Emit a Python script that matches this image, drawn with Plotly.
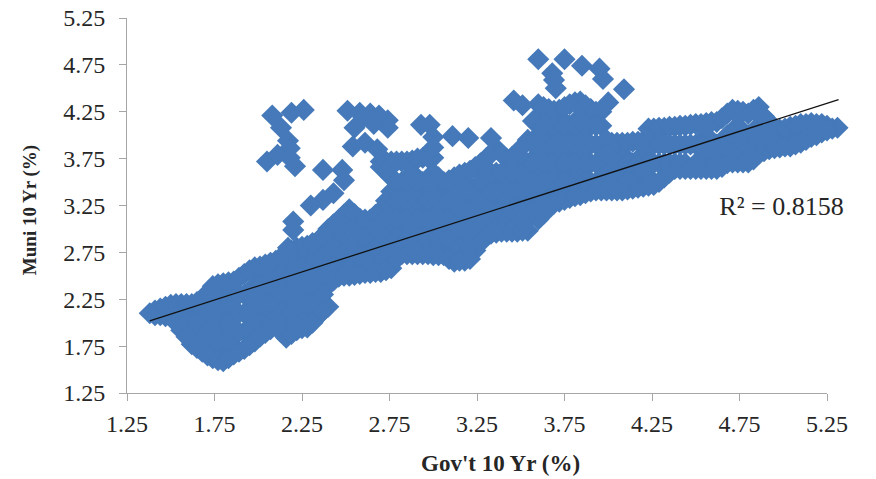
import plotly.graph_objects as go

# Body of the scatter: gov't yield -> muni yields
gov_columns = [1.38,1.44,1.50,1.56,1.62,1.68,1.74,1.80,1.86,1.92,1.98,2.04,2.10,2.16,2.22,2.28,2.34,2.40,2.46,2.52,2.58,
               2.64,2.70,2.76,2.82,2.88,2.94,3.00,3.06,3.12,3.18,3.24,3.30,3.36,3.42,3.48,3.54,3.60,3.66,3.72,3.78,3.84,
               3.90,3.96,4.02,4.08,4.14,4.20,4.26,4.32,4.38,4.44,4.50,4.56,4.62,4.68,4.74,4.80,4.86,4.92,4.98,5.04,5.10,
               5.16,5.22,5.28,5.31]
muni_columns = [
 [2.10],
 [2.15,2.08],
 [2.19,2.07],
 [2.20,2.10,1.92],
 [2.20,2.00,1.80,1.77],
 [2.25,2.10,1.90,1.69],
 [2.39,2.20,2.00,1.80,1.62],
 [2.42,2.30,2.10,1.90,1.70,1.59],
 [2.44,2.30,2.10,1.90,1.70,1.66],
 [2.52,2.30,2.10,1.90,1.72],
 [2.59,2.40,2.20,2.00,1.80],
 [2.62,2.50,2.30,2.10,1.89],
 [2.66,2.50,2.30,2.10,1.96],
 [2.74,2.60,2.40,2.20,2.00,1.84],
 [2.80,2.60,2.40,2.20,2.00,1.92],
 [2.82,2.70,2.50,2.30,2.10,1.95],
 [2.87,2.70,2.50,2.30,2.10,2.07],
 [3.00,2.80,2.60,2.40,2.17],
 [3.10,2.90,2.70,2.49],
 [3.21,3.00,2.80,2.60,2.50],
 [3.11,2.90,2.70,2.52],
 [3.10,3.00,2.80,2.60,2.53],
 [3.72,3.66,3.20,3.10,2.90,2.70,2.54],
 [3.72,3.55,3.40,3.20,3.00,2.80,2.58],
 [3.72,3.50,3.30,3.10,2.90,2.73],
 [3.73,3.60,3.40,3.20,3.00,2.80,2.73],
 [3.76,3.50,3.30,3.10,2.90,2.73],
 [3.76,3.60,3.40,3.20,3.00,2.80,2.72],
 [3.50,3.30,3.10,2.90,2.72],
 [3.55,3.40,3.20,3.00,2.80,2.65],
 [3.60,3.50,3.30,3.10,2.90,2.70,2.66],
 [3.66,3.40,3.20,3.00,2.77],
 [3.75,3.50,3.30,3.10,2.93],
 [3.86,3.60,3.40,3.20,3.00,2.96],
 [3.75,3.50,3.30,3.10,2.97],
 [3.80,3.60,3.40,3.20,3.00,2.97],
 [3.95,3.70,3.50,3.30,3.10,2.98],
 [4.33,4.20,4.00,3.80,3.60,3.40,3.20,3.10],
 [4.28,4.10,3.90,3.70,3.50,3.30,3.25],
 [4.27,4.20,4.00,3.80,3.60,3.40,3.29],
 [4.33,4.10,3.90,3.70,3.50,3.33],
 [4.36,4.20,4.00,3.80,3.60,3.40,3.36],
 [4.28,4.10,3.90,3.70,3.50,3.40],
 [4.25,4.10,3.90,3.70,3.50,3.41],
 [3.92,3.70,3.50,3.41],
 [3.92,3.80,3.60,3.41],
 [3.93,3.70,3.50,3.43],
 [3.94,3.80,3.60,3.45],
 [4.07,3.90,3.70,3.50,3.47],
 [4.08,3.90,3.70,3.55],
 [4.09,3.90,3.70,3.64],
 [4.10,3.90,3.70,3.64],
 [4.12,3.90,3.70,3.64],
 [4.13,4.00,3.80,3.64],
 [4.14,3.90,3.70,3.64],
 [4.23,4.00,3.80,3.70],
 [4.26,4.10,3.90,3.71],
 [4.23,4.00,3.80,3.71],
 [4.30,4.10,3.90,3.80],
 [4.14,4.00,3.85],
 [4.06,3.90,3.87],
 [4.09,4.00,3.88],
 [4.12,4.00,3.92],
 [4.13,4.00,3.98],
 [4.12,4.03],
 [4.07],
 [4.08],
]

# Columns between those above, which close the gaps and even the edges
gov_between = [1.41,1.47,1.53,1.59,1.65,1.71,1.77,1.83,1.89,1.95,2.01,2.07,2.13,2.19,2.25,2.31,2.37,2.43,2.49,2.55,2.61,
               2.67,2.73,2.79,2.85,2.91,2.97,3.03,3.09,3.15,3.21,3.27,3.33,3.39,3.45,3.51,3.57,3.63,3.69,3.75,3.81,3.87,
               3.93,3.99,4.05,4.11,4.17,4.23,4.29,4.35,4.41,4.47,4.53,4.59,4.65,4.71,4.77,4.83,4.89,4.95,5.01,5.07,5.13,
               5.19,5.25]
muni_between = [
 [2.13,2.08],[2.17,2.07],[2.20,2.00],[2.20,2.00,1.85],[2.22,2.00,1.73],[2.32,2.10,1.90,1.65],
 [2.41,2.20,2.00,1.80,1.60],[2.43,2.20,2.00,1.80,1.62],[2.48,2.30,2.10,1.90,1.69],[2.56,2.30,2.10,1.90,1.76],
 [2.60,2.40,2.20,2.00,1.85],[2.64,2.40,2.20,2.00,1.93],[2.70,2.50,2.30,2.10,1.90],[2.77,2.50,2.30,2.10,1.88],
 [2.81,2.60,2.40,2.20,2.00,1.94],[2.85,2.60,2.40,2.20,2.00],[2.93,2.70,2.50,2.30,2.12],[3.05,2.80,2.60,2.45],
 [3.15,2.95,2.75,2.50],[3.16,2.95,2.75,2.51],[3.10,2.90,2.70,2.53],[3.15,3.00,2.80,2.60,2.54],
 [3.72,3.62,3.30,3.10,2.90,2.70,2.56],[3.72,3.50,3.30,3.10,2.90,2.68],[3.72,3.50,3.30,3.10,2.90,2.73],
 [3.75,3.50,3.30,3.10,2.90,2.73],[3.76,3.50,3.30,3.10,2.90,2.73],[3.55,3.30,3.10,2.90,2.72],[3.52,3.30,3.10,2.90,2.68],
 [3.58,3.40,3.20,3.00,2.80,2.66],[3.62,3.40,3.20,3.00,2.80,2.68],[3.70,3.50,3.30,3.10,2.85],[3.80,3.60,3.40,3.20,2.95],
 [3.80,3.60,3.40,3.20,2.97],[3.77,3.60,3.40,3.20,2.97],[3.88,3.60,3.40,3.20,2.98],[4.15,3.90,3.70,3.50,3.30,3.20],
 [4.30,4.10,3.90,3.70,3.50,3.30,3.16],[4.26,4.10,3.90,3.70,3.50,3.27],[4.30,4.10,3.90,3.70,3.50,3.31],
 [4.35,4.10,3.90,3.70,3.50,3.35],[4.32,4.10,3.90,3.70,3.50,3.38],[4.25,4.10,3.90,3.70,3.50,3.41],[3.95,3.80,3.60,3.41],
 [3.92,3.70,3.50,3.41],[3.92,3.70,3.50,3.42],[3.93,3.70,3.50,3.44],[4.07,3.90,3.70,3.50,3.46],[4.08,3.90,3.70,3.50],
 [4.09,3.90,3.70,3.60],[4.10,3.90,3.70,3.64],[4.11,3.90,3.64],[4.12,3.90,3.64],[4.14,3.90,3.64],[4.18,3.90,3.66],
 [4.27,4.00,3.80,3.71],[4.25,4.00,3.80,3.71],[4.27,4.00,3.80,3.74],[4.20,4.00,3.83],[4.08,3.90,3.86],[4.07,3.88],
 [4.10,3.90],[4.12,3.95],[4.12,4.00],[4.10,4.05],
]

# Diamonds that stand apart from the body
outlier_gov = [2.08,2.19,2.26,2.13,2.17,2.18,2.05,2.11,2.18,2.21,
               2.37,2.48,2.49,2.43,2.37,2.30,2.20,2.20,2.17,
               2.51,2.58,2.64,2.69,2.74,2.74,2.55,2.60,2.66,2.54,2.61,2.68,
               2.93,2.98,3.11,3.20,3.33,3.00,3.00,
               3.46,3.51,3.60,3.75,3.85,3.95,3.97,3.68,3.69,3.70,4.09,4.00]
outlier_muni = [4.21,4.24,4.27,4.08,3.94,3.86,3.72,3.79,3.76,3.67,
                3.63,3.63,3.52,3.38,3.31,3.25,3.08,2.99,2.80,
                4.26,4.24,4.23,4.21,4.16,4.08,4.08,4.19,4.12,3.88,3.92,3.85,
                4.11,4.11,3.99,3.97,3.97,3.98,3.87,
                4.37,4.32,4.81,4.81,4.74,4.71,4.60,4.66,4.59,4.50,4.49,4.35]

trend_gov = [1.38, 5.316]
trend_muni = [2.02, 4.38]
r2_label = ["R² = 0.8158"]
r2_gov = [4.99]
r2_muni = [3.22]

tick_values = [1.25,1.75,2.25,2.75,3.25,3.75,4.25,4.75,5.25]
tick_labels = ["1.25","1.75","2.25","2.75","3.25","3.75","4.25","4.75","5.25"]

x_points = ([g for g, col in zip(gov_columns, muni_columns) for _ in col]
            + [g for g, col in zip(gov_between, muni_between) for _ in col] + outlier_gov)
y_points = ([m for col in muni_columns for m in col]
            + [m for col in muni_between for m in col] + outlier_muni)

SERIF = "Liberation Serif, Times New Roman, serif"
BLUE = "#4579B9"
GREY = "#A6A6A6"
INK = "#262626"

WIDTH, HEIGHT = 876, 479
LEFT, RIGHT, TOP, BOTTOM = 127, 20, 18, 86
plot_w = WIDTH - LEFT - RIGHT
# Visible x axis covers 1.25-5.25; a hidden axis on the same scale runs on past it,
# because the reference's marks and trend line overshoot the last tick.
x_end = 1.25 + 4.0 * plot_w / 700.0

fig = go.Figure()
fig.add_trace(go.Scatter(x=x_points, y=y_points, mode="markers", xaxis="x2", yaxis="y", cliponaxis=False,
                         marker=dict(symbol="diamond", size=17, color=BLUE, line=dict(width=0))))
fig.add_trace(go.Scatter(x=trend_gov, y=trend_muni, mode="lines", xaxis="x2", yaxis="y", cliponaxis=False,
                         line=dict(color="#111111", width=1.3)))
fig.add_trace(go.Scatter(x=r2_gov, y=r2_muni, text=r2_label, mode="text", xaxis="x", yaxis="y", cliponaxis=False,
                         textposition="middle center", textfont=dict(family=SERIF, size=26, color=INK)))

axis = dict(range=[1.25,5.25], tickvals=tick_values, ticktext=tick_labels, showgrid=False, zeroline=False,
            showline=True, linecolor=GREY, linewidth=1, ticks="outside", ticklen=7, tickcolor=GREY, tickwidth=1,
            tickfont=dict(family=SERIF, size=24, color=INK), ticklabeloverflow="allow", automargin=False)

fig.update_layout(
    width=WIDTH, height=HEIGHT, autosize=False, showlegend=False,
    paper_bgcolor="white", plot_bgcolor="rgba(0,0,0,0)",
    margin=dict(l=LEFT, r=RIGHT, t=TOP, b=BOTTOM),
    xaxis=dict(axis, domain=[0, 700.0 / plot_w], ticklabelstandoff=2, anchor="y"),
    xaxis2=dict(range=[1.25, x_end], domain=[0, 1], visible=False, anchor="y", automargin=False),
    yaxis=dict(axis, ticklabelstandoff=9, anchor="x"),
    annotations=[
        dict(text="<b>Gov't 10 Yr (%)</b>", xref="x", yref="y", x=3.383, y=1.25, xanchor="center", yanchor="middle",
             yshift=-70, showarrow=False, font=dict(family=SERIF, size=23, color=INK)),
        dict(text="<b>Muni 10 Yr (%)</b>", xref="x", yref="y", x=1.25, y=3.2, xanchor="center", yanchor="middle",
             xshift=-97, textangle=-90, showarrow=False, font=dict(family=SERIF, size=19, color=INK)),
    ],
)
fig.write_html("out.html", post_script="document.body.style.margin='0';", config={"displayModeBar": False})
